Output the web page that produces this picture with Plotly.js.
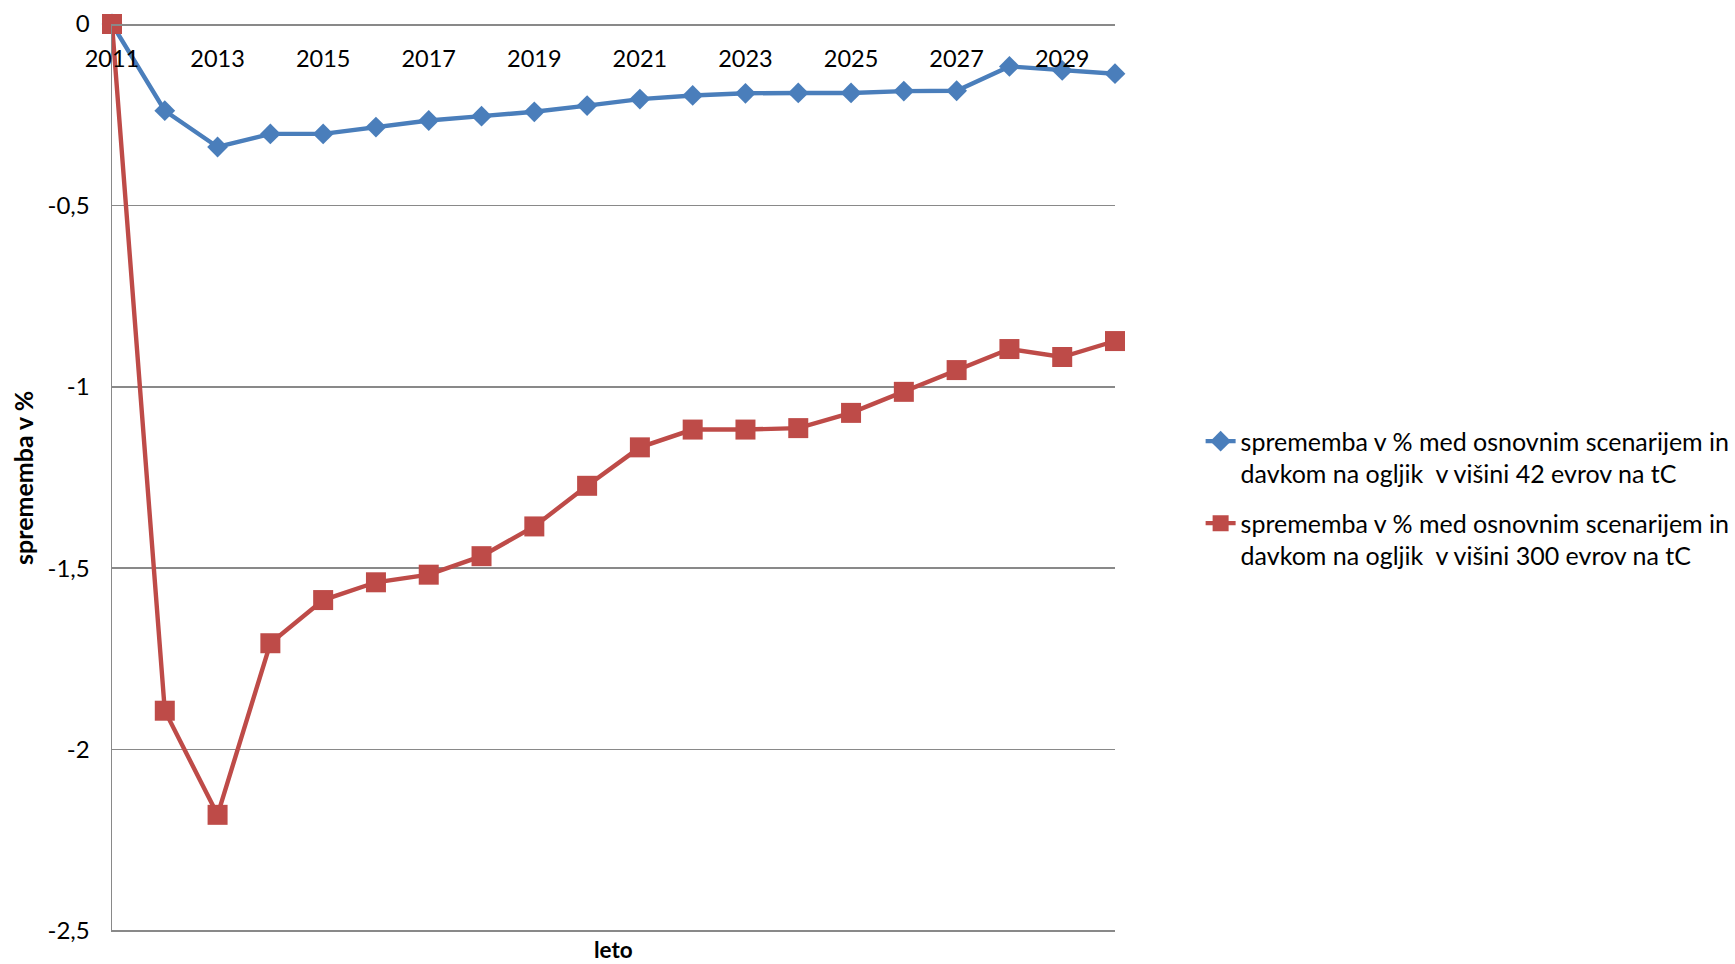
<!DOCTYPE html>
<html>
<head>
<meta charset="utf-8">
<script src="https://cdn.plot.ly/plotly-3.0.1.min.js"></script>
<style>
  html, body { margin: 0; padding: 0; background: #ffffff; }
  #chart { width: 1735px; height: 964px; }
</style>
</head>
<body>
<div id="chart"></div>
<script>
// Years on the category axis
const years = [2011, 2012, 2013, 2014, 2015, 2016, 2017, 2018, 2019, 2020,
               2021, 2022, 2023, 2024, 2025, 2026, 2027, 2028, 2029, 2030];

// Change in % versus the baseline scenario, carbon tax 42 EUR/tC
const tax42 = [0, -0.239, -0.339, -0.303, -0.303, -0.284, -0.266, -0.254, -0.242, -0.225,
               -0.207, -0.197, -0.191, -0.190, -0.190, -0.185, -0.184, -0.117, -0.128, -0.137];

// Change in % versus the baseline scenario, carbon tax 300 EUR/tC
const tax300 = [0, -1.893, -2.180, -1.707, -1.588, -1.539, -1.518, -1.467, -1.385, -1.273,
                -1.167, -1.118, -1.118, -1.114, -1.072, -1.014, -0.954, -0.896, -0.918, -0.874];

const seriesNames = [
  "sprememba v % med osnovnim scenarijem in<br>davkom na ogljik\u00a0 v višini 42 evrov na tC",
  "sprememba v % med osnovnim scenarijem in<br>davkom na ogljik\u00a0 v višini 300 evrov na tC"
];

const xTickVals = [2011, 2013, 2015, 2017, 2019, 2021, 2023, 2025, 2027, 2029];
const xTickText = ["2011", "2013", "2015", "2017", "2019", "2021", "2023", "2025", "2027", "2029"];
const yTickVals = [0, -0.5, -1, -1.5, -2, -2.5];
const yTickText = ["0", "-0,5", "-1", "-1,5", "-2", "-2,5"];

const FONT = "Lato, 'Open Sans', sans-serif";
const GRID = "#898989";

const traces = [
  {
    x: years, y: tax42, name: seriesNames[0], legendgroup: "g42",
    type: "scatter", mode: "lines+markers", cliponaxis: false,
    line: { color: "#4A7EBB", width: 4.4 },
    marker: { symbol: "diamond", size: 16, color: "#4A7EBB" }
  },
  {
    x: years, y: tax300, name: seriesNames[1], legendgroup: "g300",
    type: "scatter", mode: "lines+markers", cliponaxis: false,
    line: { color: "#BE4B48", width: 4.4 },
    marker: { symbol: "square", size: 20, color: "#BE4B48" }
  }
];

const layout = {
  width: 1735, height: 964,
  paper_bgcolor: "#ffffff", plot_bgcolor: "#ffffff",
  margin: { l: 112, r: 620, t: 24, b: 32, autoexpand: false },
  font: { family: FONT, size: 23, color: "#000000" },
  showlegend: true,
  legend: {
    xref: "container", yref: "container",
    x: 0.692, xanchor: "left",
    y: 0.566, yanchor: "top",
    valign: "top",
    font: { family: FONT, size: 25, color: "#000000" },
    tracegroupgap: 14,
    bgcolor: "rgba(0,0,0,0)"
  },
  xaxis: {
    range: [2011, 2030],
    anchor: "free", position: 1, side: "bottom",
    tickvals: xTickVals, ticktext: xTickText,
    ticks: "", ticklabelstandoff: 13,
    showgrid: false, zeroline: false,
    showline: true, linecolor: GRID, linewidth: 1.5,
    tickfont: { family: FONT, size: 23.5, color: "#000000" },
    fixedrange: true
  },
  yaxis: {
    range: [-2.503, 0],
    tickvals: yTickVals, ticktext: yTickText,
    ticks: "", ticklabelstandoff: 16,
    showgrid: true, gridcolor: GRID, gridwidth: 1.5,
    zeroline: false,
    showline: true, linecolor: GRID, linewidth: 1.5,
    tickfont: { family: FONT, size: 24, color: "#000000" },
    fixedrange: true
  },
  annotations: [
    {
      // y-axis title
      xref: "paper", yref: "paper", x: 0, y: 0.5, xshift: -89,
      xanchor: "center", yanchor: "middle", showarrow: false, borderpad: 0,
      textangle: -90,
      text: "<b>sprememba v %</b>", font: { family: FONT, size: 25, color: "#000000" }
    },
    {
      // x-axis title
      xref: "paper", yref: "paper", x: 0.5, y: 0, yshift: -17,
      xanchor: "center", yanchor: "middle", showarrow: false, borderpad: 0,
      text: "<b>leto</b>", font: { family: FONT, size: 22.5, color: "#000000" }
    }
  ]
};

Plotly.newPlot("chart", traces, layout, { displayModeBar: false, staticPlot: true });
</script>
</body>
</html>
